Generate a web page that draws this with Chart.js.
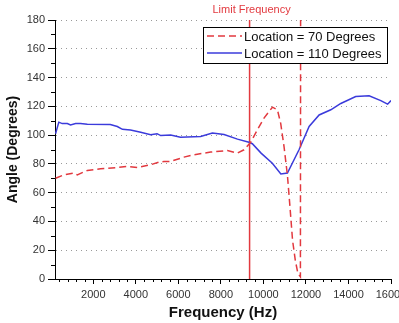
<!DOCTYPE html>
<html>
<head>
<meta charset="utf-8">
<script src="https://cdn.jsdelivr.net/npm/chart.js@4.4.0/dist/chart.umd.min.js"></script>
<style>
  html, body { margin: 0; padding: 0; overflow: hidden; background: #fff; }
  #wrap { width: 430px; height: 323px; }
</style>
</head>
<body>
<div id="wrap"><canvas id="chart" width="430" height="323"></canvas></div>
<script>
// --- data ---
const freqRed = [226, 616, 1087, 1247, 1718, 2344, 3129, 3600, 4071, 4697, 5087, 5322, 5638, 6264, 6734, 7520, 8306, 8777, 9088, 9403, 9718, 10028, 10424, 10659, 10815, 10970, 11130, 11250, 11370, 11500, 11620, 11740, 11750];
const angleRed = [70, 72.4, 73.6, 72.4, 75.4, 76.6, 77.5, 78.2, 77.5, 79.4, 81.2, 81.7, 81.7, 84.7, 86.3, 88.2, 89.3, 87.5, 89.8, 95, 103.7, 111.8, 119.4, 117.6, 108, 92, 72, 50, 27, 13, 4, 1.5, 190];

const freqBlue = [226, 380, 540, 780, 930, 1170, 1400, 1720, 2800, 3130, 3370, 3750, 4230, 4700, 5000, 5170, 5640, 6100, 7050, 7600, 8150, 8780, 9320, 9480, 9890, 10420, 10820, 11130, 11680, 12150, 12620, 13170, 13640, 14340, 14970, 15520, 15840, 16000];
const angleBlue = [101, 109, 108, 108, 107, 108, 108, 107.5, 107.4, 106, 104, 103.5, 102, 100.2, 101, 99.7, 100, 98.6, 99, 101.4, 100.4, 97.2, 95, 94, 87.5, 80.5, 73, 73.6, 90, 106, 114, 117.6, 122, 126.8, 127.3, 124, 121.5, 124];

const limitFreq = 9350;
const limitAngles = [0, 180];

const xTickValues = [2000, 4000, 6000, 8000, 10000, 12000, 14000, 16000];
const yTickValues = [0, 20, 40, 60, 80, 100, 120, 140, 160, 180];
const xMinorStep = 400;
const yMinorStep = 10;

const seriesLabels = ['Location = 70 Degrees', 'Location = 110 Degrees'];

const RED = '#e2393f';
const BLUE = '#3b3bdb';

const toPoints = (xs, ys) => xs.map((x, i) => ({ x: x, y: ys[i] }));

// minor ticks, the legend box and the limit label
const extrasPlugin = {
    id: 'extras',
    afterDraw(chart) {
        const { ctx, chartArea } = chart;
        const x = chart.scales.x;
        const y = chart.scales.y;
        ctx.save();

        ctx.strokeStyle = '#000';
        ctx.lineWidth = 1;
        ctx.beginPath();
        for (let v = xMinorStep; v < x.max; v += xMinorStep) {
            if (v % 2000 === 0 || v < x.min) continue;
            const px = Math.round(x.getPixelForValue(v)) + 0.5;
            ctx.moveTo(px, chartArea.bottom);
            ctx.lineTo(px, chartArea.bottom + 3);
        }
        for (let v = yMinorStep; v < y.max; v += 2 * yMinorStep) {
            const py = Math.round(y.getPixelForValue(v)) + 0.5;
            ctx.moveTo(chartArea.left - 4, py);
            ctx.lineTo(chartArea.left, py);
        }
        ctx.stroke();

        // limit frequency label
        ctx.fillStyle = RED;
        ctx.font = '11px "Liberation Sans", Arial, sans-serif';
        ctx.textAlign = 'center';
        ctx.textBaseline = 'middle';
        ctx.fillText('Limit Frequency', x.getPixelForValue(limitFreq) + 2, 10);

        // legend
        const bx = 203.5, by = 27.5, bw = 184, bh = 36;
        ctx.fillStyle = '#fff';
        ctx.fillRect(bx, by, bw, bh);
        ctx.strokeStyle = '#000';
        ctx.lineWidth = 1;
        ctx.strokeRect(bx, by, bw, bh);
        const rows = [36, 53];
        chart.data.datasets.slice(0, 2).forEach((ds, i) => {
            ctx.beginPath();
            ctx.strokeStyle = ds.borderColor;
            ctx.lineWidth = 1.5;
            ctx.setLineDash(ds.borderDash || []);
            ctx.moveTo(207, rows[i]);
            ctx.lineTo(242, rows[i]);
            ctx.stroke();
            ctx.setLineDash([]);
            ctx.fillStyle = '#111';
            ctx.font = '13px "Liberation Sans", Arial, sans-serif';
            ctx.textAlign = 'left';
            ctx.fillText(ds.label, 244, rows[i] + 1);
        });
        ctx.restore();
    }
};

const ctx = document.getElementById('chart').getContext('2d');
new Chart(ctx, {
    type: 'line',
    data: {
        datasets: [
            {
                label: seriesLabels[0],
                data: toPoints(freqRed, angleRed),
                borderColor: RED,
                borderWidth: 1.5,
                borderDash: [7, 4],
                pointRadius: 0,
                tension: 0
            },
            {
                label: seriesLabels[1],
                data: toPoints(freqBlue, angleBlue),
                borderColor: BLUE,
                borderWidth: 1.5,
                pointRadius: 0,
                tension: 0
            },
            {
                label: 'Limit Frequency',
                data: limitAngles.map(a => ({ x: limitFreq, y: a })),
                borderColor: RED,
                borderWidth: 1.5,
                pointRadius: 0
            }
        ]
    },
    options: {
        responsive: false,
        animation: false,
        layout: { padding: { left: 0, right: 39, top: 20, bottom: 0 } },
        plugins: {
            legend: { display: false },
            tooltip: { enabled: false }
        },
        scales: {
            x: {
                type: 'linear',
                min: 200,
                max: 16000,
                afterBuildTicks: (scale) => { scale.ticks = xTickValues.map(v => ({ value: v })); },
                afterFit: (scale) => { scale.height = 44; },
                ticks: {
                    color: '#333',
                    padding: 4,
                    maxRotation: 0,
                    font: { size: 11, family: '"Liberation Sans", Arial, sans-serif' },
                    callback: (v) => String(v)
                },
                grid: { drawOnChartArea: false, tickLength: 5, tickColor: '#000', tickBorderDash: [] },
                border: { color: '#000', width: 1 },
                title: {
                    display: true,
                    text: 'Frequency (Hz)',
                    color: '#111',
                    padding: { top: 1, bottom: 1 },
                    font: { size: 15, weight: 'bold', family: '"Liberation Sans", Arial, sans-serif' }
                }
            },
            y: {
                min: 0,
                max: 180,
                afterBuildTicks: (scale) => { scale.ticks = yTickValues.map(v => ({ value: v })); },
                afterFit: (scale) => { scale.width = 55; },
                ticks: {
                    color: '#333',
                    padding: 3,
                    font: { size: 11, family: '"Liberation Sans", Arial, sans-serif' }
                },
                grid: { color: '#9a9a9a', tickLength: 7, tickColor: '#000', tickBorderDash: [] },
                border: { color: '#000', width: 1, dash: [1, 4] },
                title: {
                    display: true,
                    text: 'Angle (Degrees)',
                    color: '#111',
                    padding: { top: 5, bottom: 0 },
                    font: { size: 14, weight: 'bold', family: '"Liberation Sans", Arial, sans-serif' }
                }
            }
        }
    },
    plugins: [extrasPlugin]
});
</script>
</body>
</html>
